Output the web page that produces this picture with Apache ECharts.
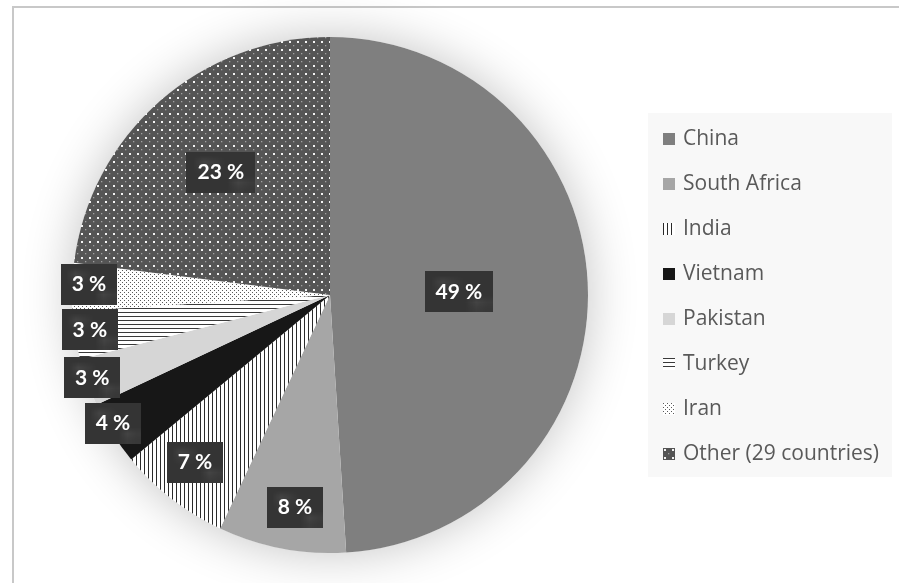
<!DOCTYPE html>
<html>
<head>
<meta charset="utf-8">
<title>Producers share</title>
<script src="https://cdn.jsdelivr.net/npm/echarts@6/dist/echarts.min.js"></script>
<style>
  html, body { margin: 0; padding: 0; background: #ffffff; }
  #chart { width: 899px; height: 583px; }
</style>
</head>
<body>
<div id="chart"></div>
<script>
// Share of production by country (percent)
const countries = ['China', 'South Africa', 'India', 'Vietnam', 'Pakistan', 'Turkey', 'Iran', 'Other (29 countries)'];
const shares = [49, 8, 7, 4, 3, 3, 3, 23];

// Where each value box sits: fraction of the radius along the slice middle,
// plus a small angular nudge in degrees
const labelRadius = [0.50, 0.83, 0.83, 0.975, 0.975, 0.94, 0.935, 0.64];
const labelNudge = [0, -1.4, 1.3, 2, 0.8, 1, 1, 0];

function makePattern(size, draw) {
  const c = document.createElement('canvas');
  c.width = size; c.height = size;
  const ctx = c.getContext('2d');
  draw(ctx, size);
  return { image: c, repeat: 'repeat' };
}

const vStripes = makePattern(4, (ctx, s) => {
  ctx.fillStyle = '#ffffff'; ctx.fillRect(0, 0, s, s);
  ctx.fillStyle = '#2a2a2a'; ctx.fillRect(0, 0, 1, s);
});
const hStripes = makePattern(4, (ctx, s) => {
  ctx.fillStyle = '#ffffff'; ctx.fillRect(0, 0, s, s);
  ctx.fillStyle = '#3a3a3a'; ctx.fillRect(0, 0, s, 1);
});
const smallDots = makePattern(4, (ctx, s) => {
  ctx.fillStyle = '#ffffff'; ctx.fillRect(0, 0, s, s);
  ctx.fillStyle = '#5a5a5a';
  ctx.fillRect(0, 0, 1, 1);
  ctx.fillRect(2, 2, 1, 1);
});
const darkDots = makePattern(8, (ctx, s) => {
  ctx.fillStyle = '#555555'; ctx.fillRect(0, 0, s, s);
  ctx.fillStyle = '#f4f4f4'; ctx.fillRect(1, 1, 2, 2);
  ctx.fillStyle = '#a0a0a0'; ctx.fillRect(5, 5, 1.3, 1.3);
});
const boxTexture = makePattern(6, (ctx, s) => {
  ctx.fillStyle = '#343434'; ctx.fillRect(0, 0, s, s);
  ctx.fillStyle = '#444444'; ctx.fillRect(1, 1, 1.5, 1.5);
  ctx.fillRect(4, 4, 1.5, 1.5);
});

const fills = ['#7f7f7f', '#a6a6a6', vStripes, '#171717', '#d6d6d6', hStripes, smallDots, darkDots];

const chart = echarts.init(document.getElementById('chart'), null, { renderer: 'canvas' });

function sliceLabelPos(params) {
  const i = params.dataIndex;
  const lay = chart.getModel().getSeriesByIndex(1).getData().getItemLayout(i);
  const mid = (lay.startAngle + lay.endAngle) / 2 + labelNudge[i] * Math.PI / 180;
  const rr = lay.r * labelRadius[i];
  return {
    x: lay.cx + rr * Math.cos(mid),
    y: lay.cy + rr * Math.sin(mid) + 1,
    align: 'center',
    verticalAlign: 'middle'
  };
}

chart.setOption({
  animation: false,
  backgroundColor: '#ffffff',
  graphic: [
    {
      type: 'rect', z: -10, silent: true,
      shape: { x: 13, y: 7, width: 900, height: 580 },
      style: { fill: '#ffffff', stroke: '#c8c8c8', lineWidth: 2 }
    },
    {
      type: 'rect', z: -9, silent: true,
      shape: { x: 648, y: 113, width: 244, height: 364 },
      style: { fill: '#f8f8f8' }
    }
  ],
  legend: {
    orient: 'vertical',
    left: 658,
    top: 123,
    data: countries,
    icon: 'rect',
    itemWidth: 12,
    itemHeight: 12,
    itemGap: 23,
    selectedMode: false,
    textStyle: {
      fontFamily: 'Open Sans',
      fontSize: 21,
      lineHeight: 22,
      color: '#595959',
      padding: [0, 0, 0, 3]
    }
  },
  series: [
    {
      // soft halo behind the pie
      type: 'pie',
      silent: true,
      center: [330, 295],
      radius: 258,
      startAngle: 90,
      label: { show: false },
      labelLine: { show: false },
      itemStyle: { color: '#ffffff', shadowBlur: 50, shadowColor: 'rgba(0,0,0,0.24)' },
      data: [{ value: 1, name: '' }]
    },
    {
      type: 'pie',
      center: [330, 295],
      radius: 258,
      startAngle: 90,
      clockwise: true,
      avoidLabelOverlap: false,
      itemStyle: { borderWidth: 0 },
      label: {
        show: true,
        position: 'inside',
        formatter: (p) => p.value + ' %',
        fontFamily: 'Lato',
        fontWeight: 'bold',
        fontSize: 21,
        lineHeight: 22,
        color: '#ffffff',
        backgroundColor: boxTexture,
        padding: [10, 11, 9, 11],
        shadowBlur: 5,
        shadowOffsetX: 2,
        shadowOffsetY: 3,
        shadowColor: 'rgba(0,0,0,0.45)'
      },
      labelLine: { show: false },
      labelLayout: sliceLabelPos,
      emphasis: { disabled: true },
      data: countries.map((name, i) => ({
        name: name,
        value: shares[i],
        itemStyle: { color: fills[i] }
      }))
    }
  ]
});
</script>
</body>
</html>
